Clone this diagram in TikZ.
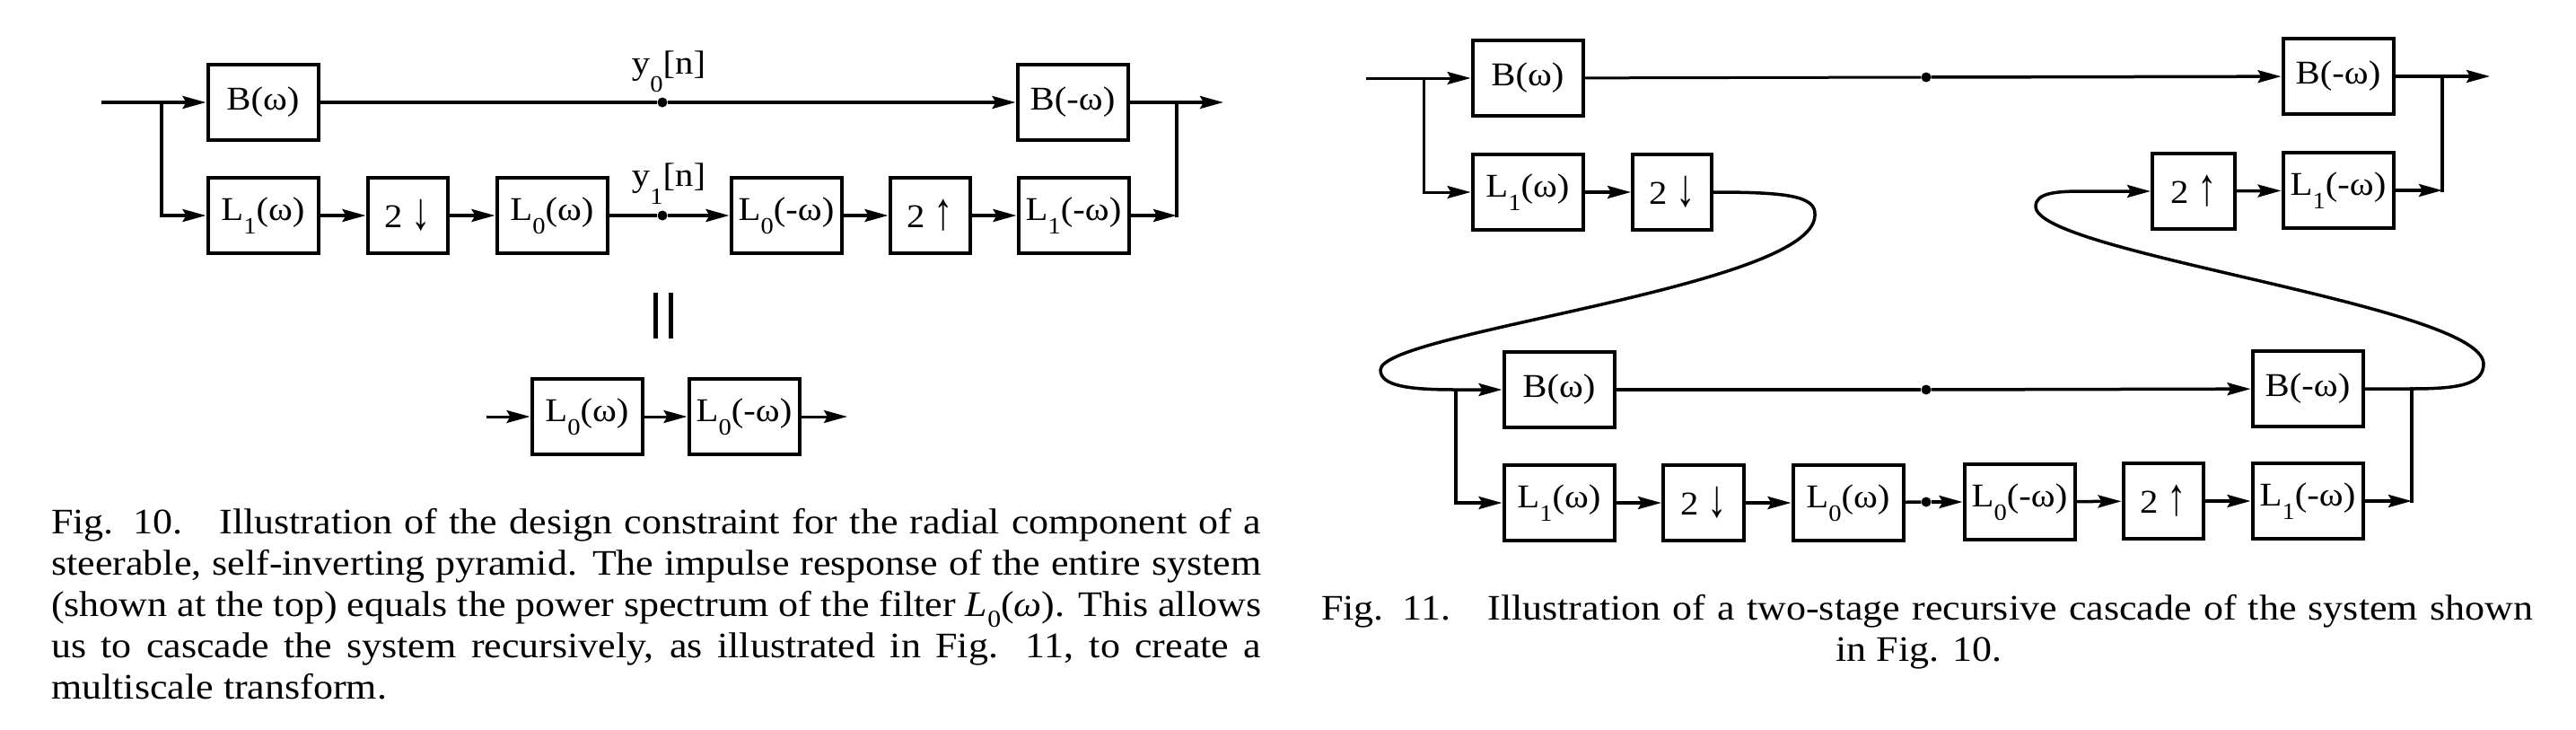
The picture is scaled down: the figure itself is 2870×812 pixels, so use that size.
\documentclass[tikz,border=0pt]{standalone}
\usepackage{fontspec}
\setmainfont{Liberation Serif}[FakeStretch=1.1]
\usetikzlibrary{arrows.meta}
\newcommand{\lsub}[1]{\raisebox{-0.4em}{\fontsize{26}{26}\selectfont #1}}
\newcommand{\ysub}[1]{\raisebox{-0.55em}{\fontsize{26}{26}\selectfont #1}}
\newcommand{\dnar}{\raisebox{-0.05em}{\scalebox{1.05}[1.6]{↓}}}
\newcommand{\upar}{\raisebox{-0.05em}{\scalebox{1.05}[1.6]{↑}}}
\begin{document}
\begin{tikzpicture}[x=1pt,y=-1pt,
  blk/.style={draw, line width=4pt, minimum width=123pt, minimum height=84pt, inner sep=0pt,
    font=\fontsize{37}{42}\selectfont},
  nblk/.style={blk, minimum width=89pt},
  wire/.style={line width=3.5pt},
  arr/.style={wire, -{Stealth[length=26pt,width=14pt,inset=4pt]}},
  dotn/.style={circle, fill, inner sep=0pt, minimum size=11pt},
  lab/.style={anchor=base, inner sep=0pt, font=\fontsize{37}{42}\selectfont},
  captxt/.style={anchor=base west, inner sep=0pt, font=\fontsize{40}{46}\selectfont},
]
\useasboundingbox (0,0) rectangle (2870,812);

% ---------------- Fig. 10 ----------------
\node[blk] (aB) at (293,114) {B(ω)};
\node[blk] (aBm) at (1195,114) {B(-ω)};
\node[blk] (aL1) at (293,240) {L\lsub{1}(ω)};
\node[nblk] (aD) at (454,240) {2 \dnar};
\node[blk] (aL0) at (615,240) {L\lsub{0}(ω)};
\node[blk] (aL0m) at (876,240) {L\lsub{0}(-ω)};
\node[nblk] (aU) at (1036,240) {2 \upar};
\node[blk] (aL1m) at (1196,240) {L\lsub{1}(-ω)};
\node[dotn] (ad0) at (738,114) {};
\node[dotn] (ad1) at (738,240) {};
\node[lab] (ay0) at (745,82) {y\ysub{0}[n]};
\node[lab] (ay1) at (745,207) {y\ysub{1}[n]};
\coordinate (ain) at (113,114);
\coordinate (aj1) at (180,114);
\coordinate (ao1) at (1311,114);
\coordinate (ao2) at (1311,240);
\coordinate (aout) at (1363,114);

\draw[arr] (ain) -- (aB);
\draw[arr] (aj1) |- (aL1);
\draw[wire] (aB) -- (ad0);
\draw[arr] (ad0) -- (aBm);
\draw[arr] (aL1) -- (aD);
\draw[arr] (aD) -- (aL0);
\draw[wire] (aL0) -- (ad1);
\draw[arr] (ad1) -- (aL0m);
\draw[arr] (aL0m) -- (aU);
\draw[arr] (aU) -- (aL1m);
\draw[arr] (aL1m) -- (ao2);
\draw[wire, line cap=rect] (ao2) -- (ao1);
\draw[arr] (aBm) -- (aout);

% equality sign
\draw[line width=5pt] (730,326) -- (730,377);
\draw[line width=5pt] (747,326) -- (747,377);

\node[blk] (eL0) at (654,464) {L\lsub{0}(ω)};
\node[blk] (eL0m) at (829,464) {L\lsub{0}(-ω)};
\coordinate (ein) at (542,464);
\coordinate (eout) at (944,464);
\draw[arr, line width=3pt] (ein) -- (eL0);
\draw[arr, line width=3pt] (eL0) -- (eL0m);
\draw[arr, line width=3pt] (eL0m) -- (eout);

% caption Fig. 10
\node[captxt] (t1) at (57,594) {\makebox[1348pt][s]{Fig. 10.\hspace{0.5em} Illustration of the design constraint for the radial component of a}};
\node[captxt] (t2) at (57,640) {\makebox[1348pt][s]{steerable, self-inverting pyramid. The impulse response of the entire system}};
\node[captxt] (t3) at (57,686) {\makebox[1348pt][s]{(shown at the top) equals the power spectrum of the filter \textit{L}\raisebox{-0.3em}{\fontsize{27}{27}\selectfont 0}(\textit{ω}). This allows}};
\node[captxt] (t4) at (57,732) {\makebox[1348pt][s]{us to cascade the system recursively, as illustrated in Fig. 11, to create a}};
\node[captxt] (t5) at (57,778) {multiscale transform.};

% ---------------- Fig. 11 ----------------
\node[blk] (bB) at (1702,87) {B(ω)};
\node[blk] (bL1) at (1702,214) {L\lsub{1}(ω)};
\node[nblk, minimum width=88pt] (bD) at (1863,214) {2 \dnar};
\node[dotn] (bd0) at (2146,86) {};
\node[blk] (bBm) at (2605,85) {B(-ω)};
\node[nblk, minimum width=92pt] (bU) at (2444,213) {2 \upar};
\node[blk] (bL1m) at (2605,212) {L\lsub{1}(-ω)};
\coordinate (bin) at (1522,87);
\coordinate (bj1) at (1586,87);
\coordinate (bo1) at (2721,85);
\coordinate (bo2) at (2721,212);
\coordinate (bout) at (2774,85);

\draw[arr, line width=3pt] (bin) -- (bB);
\draw[arr, line width=3pt] (bj1) |- (bL1);
\draw[wire, line width=3pt] (bB) -- (bd0);
\draw[arr] (bd0) -- (bBm);
\draw[arr] (bL1) -- (bD);
\draw[arr] (bU) -- (bL1m);
\draw[arr] (bL1m) -- (bo2);
\draw[wire, line cap=rect] (bo2) -- (bo1);
\draw[arr] (bBm) -- (bout);

\node[blk] (cB) at (1737,434) {B(ω)};
\node[dotn] (cd0) at (2146,434) {};
\node[blk] (cBm) at (2571,433) {B(-ω)};
\node[blk] (cL1) at (1737,560) {L\lsub{1}(ω)};
\node[nblk, minimum width=90pt] (cD) at (1898,560) {2 \dnar};
\node[blk] (cL0) at (2059,560) {L\lsub{0}(ω)};
\node[dotn] (cd1) at (2146,559) {};
\node[blk] (cL0m) at (2250,559) {L\lsub{0}(-ω)};
\node[nblk] (cU) at (2410,558) {2 \upar};
\node[blk] (cL1m) at (2571,558) {L\lsub{1}(-ω)};
\coordinate (cj1) at (1622,434);
\coordinate (co1) at (2687,433);
\coordinate (co2) at (2687,558);

% loops
\draw[arr] (bD.east) .. controls (1990,214) and (2024,218) .. (2022,240)
   .. controls (2020,320) and (1538,370) .. (1538,412)
   .. controls (1538,430) and (1570,434) .. (cj1) -- (cB);
\draw[arr] (cBm.east) -- (co1) .. controls (2740,433) and (2767,428) .. (2767,405)
   .. controls (2765,340) and (2268,282) .. (2268,230)
   .. controls (2268,215) and (2290,213) .. (2320,213) -- (bU);

\draw[arr] (cj1) |- (cL1);
\draw[wire] (cB) -- (cd0);
\draw[arr] (cd0) -- (cBm);
\draw[arr] (cL1) -- (cD);
\draw[arr] (cD) -- (cL0);
\draw[wire] (cL0) -- (cd1);
\draw[arr] (cd1) -- (cL0m);
\draw[arr] (cL0m) -- (cU);
\draw[arr] (cU) -- (cL1m);
\draw[arr] (cL1m) -- (co2);
\draw[wire, line cap=rect] (co2) -- (co1);

% caption Fig. 11
\node[captxt, anchor=base] (u1) at (2147,690) {\makebox[1350pt][s]{Fig. 11.\hspace{0.5em} Illustration of a two-stage recursive cascade of the system shown}};
\node[captxt, anchor=base] (u2) at (2138,736) {in Fig. 10.};
\end{tikzpicture}
\end{document}
